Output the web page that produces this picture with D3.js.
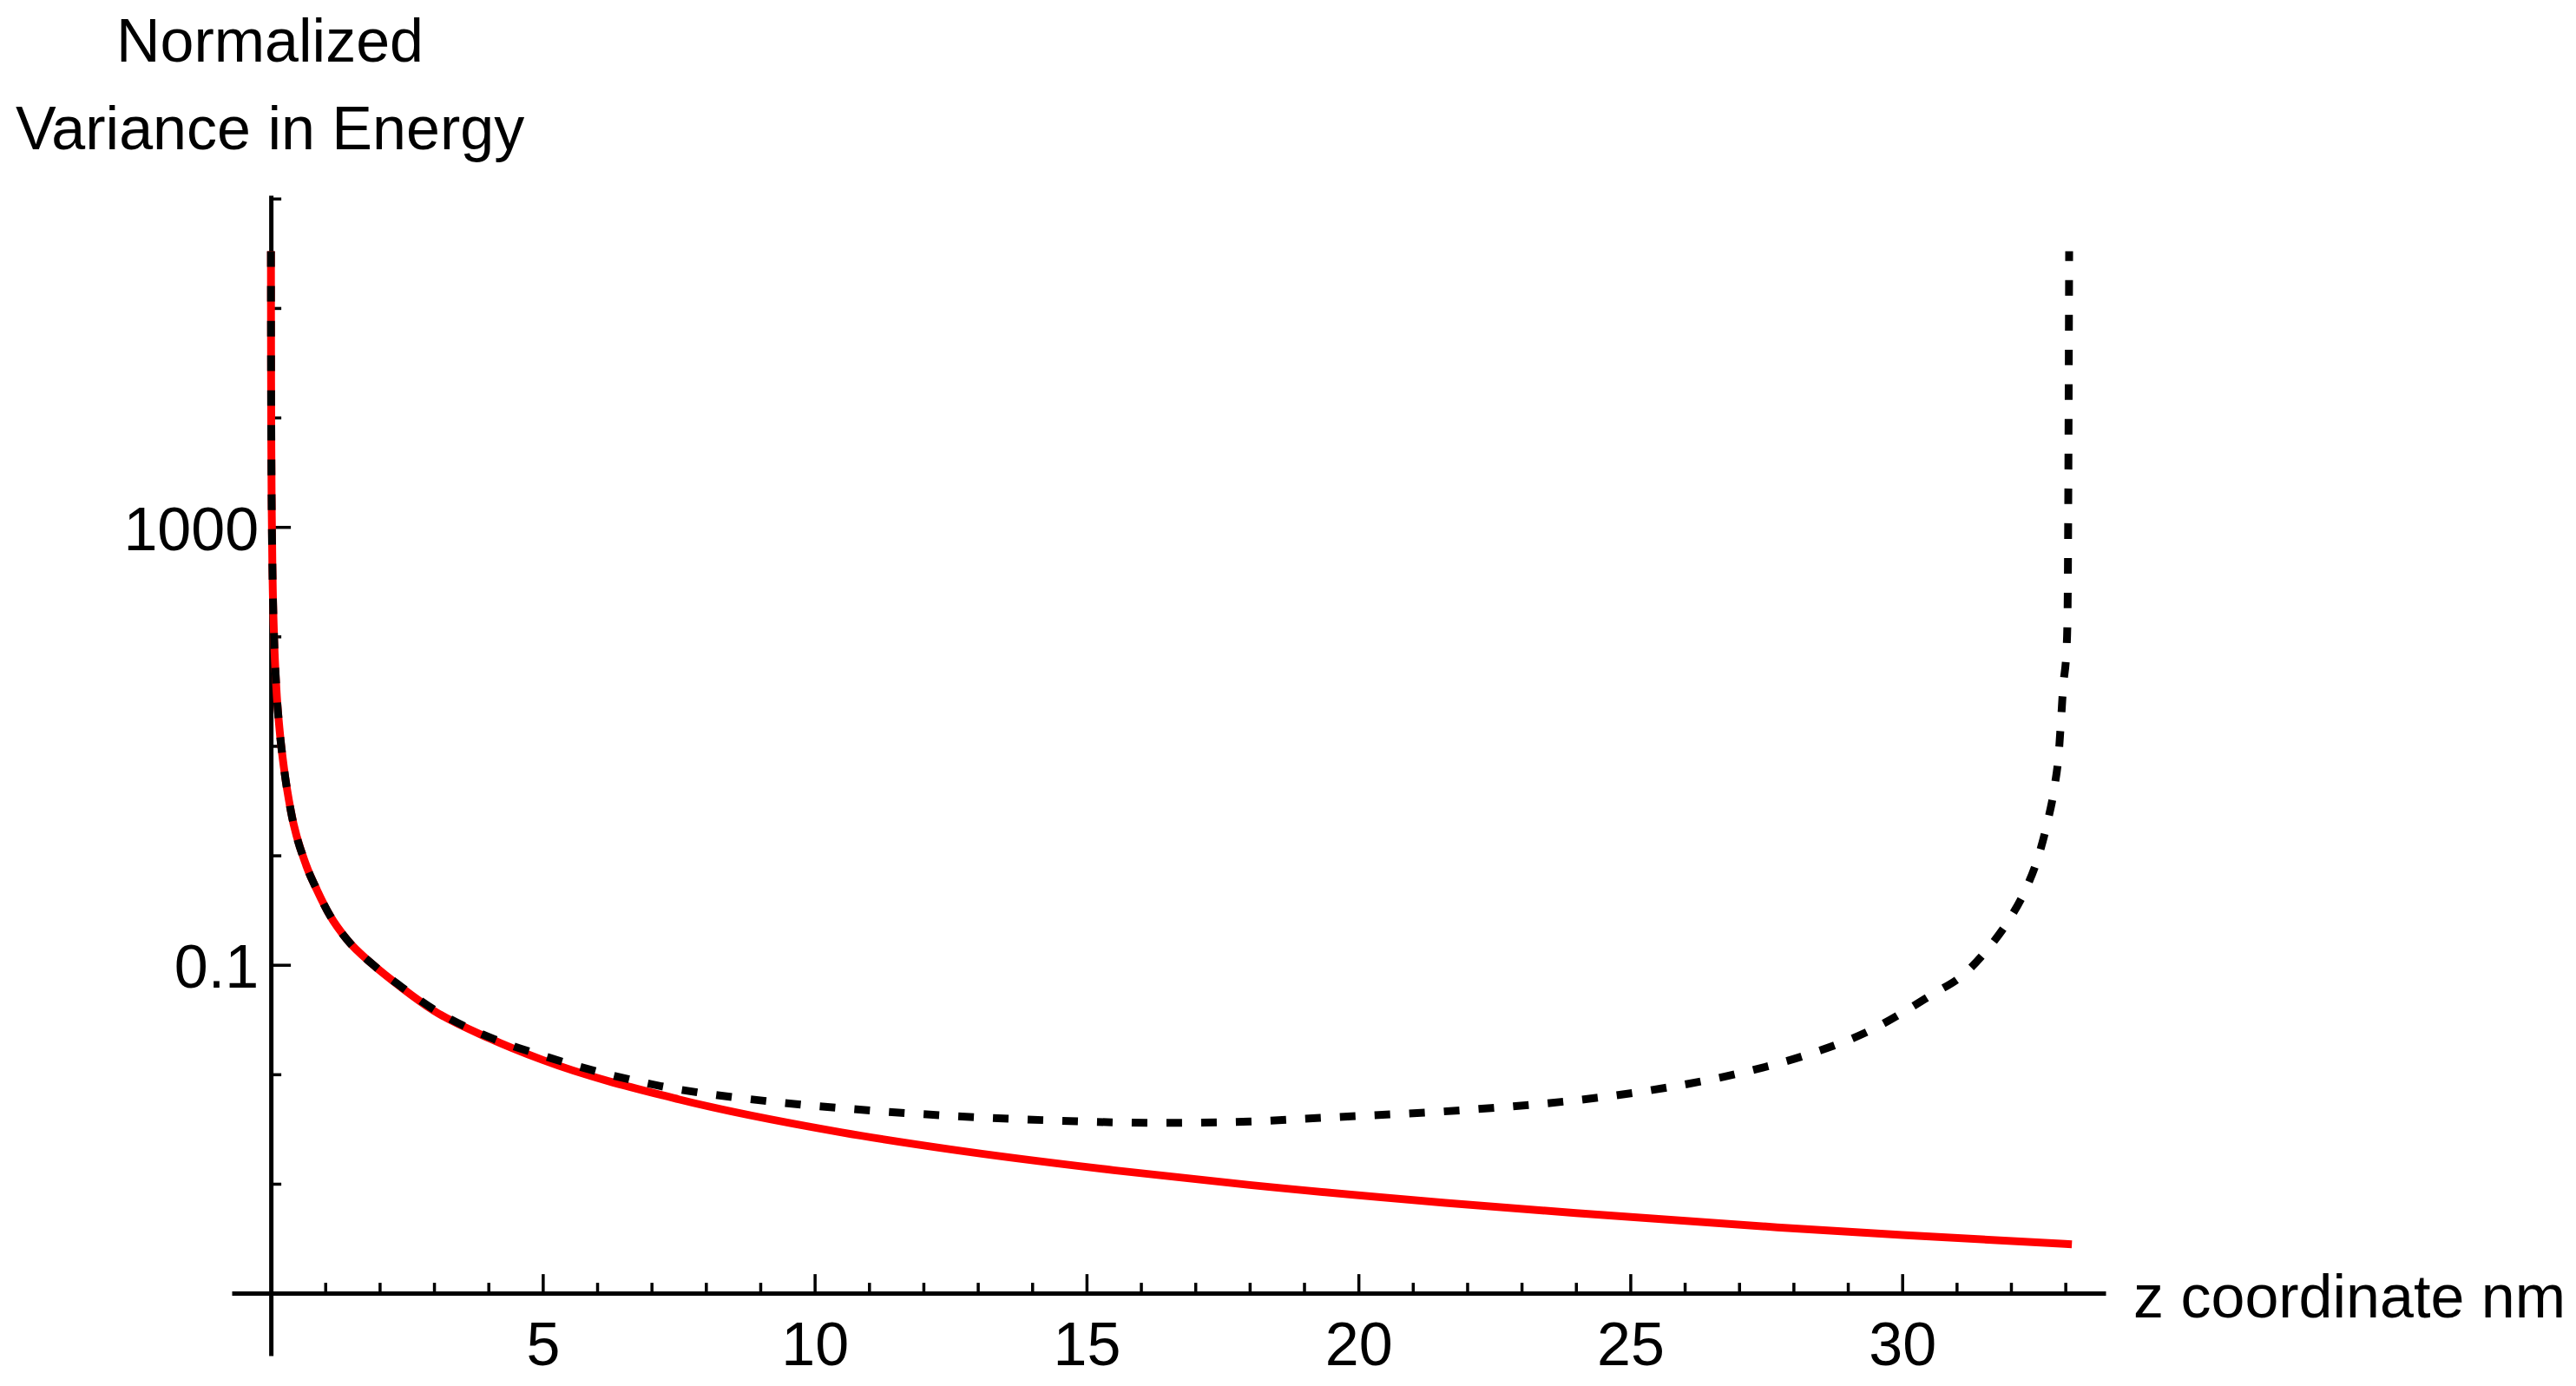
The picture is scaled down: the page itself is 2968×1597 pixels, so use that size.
<!DOCTYPE html>
<html>
<head>
<meta charset="utf-8">
<script src="https://cdn.jsdelivr.net/npm/d3@7"></script>
<style>
  body { margin: 0; background: #fff; }
  svg { display: block; }
  text { font-family: "Liberation Sans", Arial, sans-serif; fill: #000; }
</style>
</head>
<body>
<svg id="chart"></svg>
<script>
// z coordinate (nm) and normalized variance
const zRed = [0.001, 0.002, 0.004, 0.008, 0.015, 0.03, 0.06, 0.1, 0.16, 0.24, 0.37, 0.65,
    0.85, 1.09, 1.4, 1.88, 2.4, 3, 4, 5, 7.5, 10.5, 12.5, 15.5, 18, 21.6, 24, 27.7, 30, 33.12]
const varRed = [3.3e5, 8.3e4, 2.1e4, 5.2e3, 1.5e3, 370, 93, 34, 14, 6.3, 2.5, 0.81,
    0.48, 0.28, 0.17, 0.10, 0.062, 0.038, 0.0215, 0.0135, 0.0059, 0.00294, 0.00206, 0.00133,
    0.000975, 0.00067, 0.00054, 0.0004, 0.00034, 0.00028]

const zDot = [0.001, 0.002, 0.004, 0.008, 0.015, 0.03, 0.06, 0.1, 0.16, 0.24, 0.37, 0.65,
    0.85, 1.09, 1.4, 1.88, 2.4, 3, 4.1, 5, 6.9, 9.4, 10.5, 12.4, 14.3, 16.3, 18, 19.3, 21.9,
    24.5, 25.7, 27.0, 28.2, 29.4, 30.56, 31.12, 31.6, 31.97, 32.28, 32.51, 32.67, 32.8,
    32.88, 32.92, 32.96, 33.02, 33.04, 33.07]
const varDot = [3.3e5, 8.3e4, 2.1e4, 5.2e3, 1.5e3, 370, 93, 34, 14, 6.3, 2.5, 0.81,
    0.48, 0.28, 0.17, 0.10, 0.063, 0.039, 0.021, 0.0148, 0.0083, 0.0055, 0.0049, 0.0042,
    0.0038, 0.0036, 0.0037, 0.0040, 0.0047, 0.0062, 0.0076, 0.0102, 0.0148, 0.025, 0.054,
    0.081, 0.145, 0.26, 0.50, 1.0, 2.0, 4.2, 8.7, 17, 35, 74, 155, 3.3e5]

const xMajor = [5, 10, 15, 20, 25, 30]
const xMinor = d3.range(1, 34).filter(d => d % 5 !== 0)
const yMajor = [1000, 0.1]
const yMinor = [1e-4, 1e-3, 1e-2, 1, 10, 100, 1e4, 1e5, 1e6]

const xTitle = "z coordinate nm"
const yTitle = ["Normalized", "Variance in Energy"]

const width = 2968, height = 1597
const fontSize = 70

const svg = d3.select("#chart").attr("width", width).attr("height", height)

let x = d3.scaleLinear().domain([-0.72, 33.74]).range([267, 2426])
let y = d3.scaleLog().domain([Math.pow(10, -4.57), Math.pow(10, 6.03)]).range([1562, 225])

let x0 = x(0)
let yAxisPos = y(1e-4)

// x axis: minor ticks, then major ticks with labels
svg.append("g")
    .attr("transform", `translate(0, ${yAxisPos})`)
    .call(d3.axisBottom(x).tickValues(xMinor).tickSize(-12).tickSizeOuter(0).tickFormat(""))
    .call(g => g.select(".domain").remove())
    .call(g => g.selectAll("line").attr("stroke-width", 3.5))

svg.append("g")
    .attr("transform", `translate(0, ${yAxisPos})`)
    .call(d3.axisBottom(x).tickValues(xMajor).tickSize(-22).tickSizeOuter(0))
    .call(g => g.select(".domain").attr("stroke-width", 5))
    .call(g => g.selectAll("line").attr("stroke-width", 3.5))
    .call(g => g.selectAll("text")
        .attr("y", 83).attr("dy", 0)
        .style("font-size", fontSize + "px")
        .style("font-family", "'Liberation Sans', Arial, sans-serif"))

// y axis
svg.append("g")
    .attr("transform", `translate(${x0}, 0)`)
    .call(d3.axisLeft(y).tickValues(yMinor).tickSize(-12).tickSizeOuter(0).tickFormat(""))
    .call(g => g.select(".domain").remove())
    .call(g => g.selectAll("line").attr("stroke-width", 3.5))

svg.append("g")
    .attr("transform", `translate(${x0}, 0)`)
    .call(d3.axisLeft(y).tickValues(yMajor).tickSize(-23).tickSizeOuter(0).tickPadding(14)
        .tickFormat(d => d >= 1 ? d3.format("d")(d) : String(d)))
    .call(g => g.select(".domain").attr("stroke-width", 5))
    .call(g => g.selectAll("line").attr("stroke-width", 3.5))
    .call(g => g.selectAll("text")
        .attr("dy", "0.37em")
        .style("font-size", fontSize + "px")
        .style("font-family", "'Liberation Sans', Arial, sans-serif"))

// curves
let line = d3.line()
    .x(d => x(d[0]))
    .y(d => y(d[1]))
    .curve(d3.curveMonotoneX)

svg.append("path")
    .datum(d3.zip(zRed, varRed))
    .attr("d", line)
    .attr("fill", "none")
    .attr("stroke", "#ff0000")
    .attr("stroke-width", 9)

svg.append("path")
    .datum(d3.zip(zDot, varDot))
    .attr("d", line)
    .attr("fill", "none")
    .attr("stroke", "#000")
    .attr("stroke-width", 9)
    .attr("stroke-dasharray", "18,22")

// titles
svg.append("text")
    .attr("x", 2458)
    .attr("y", 1518)
    .style("font-size", fontSize + "px")
    .text(xTitle)

svg.selectAll(".ytitle").data(yTitle).join("text")
    .attr("class", "ytitle")
    .attr("x", 311)
    .attr("y", (d, i) => 71 + i * 101)
    .attr("text-anchor", "middle")
    .style("font-size", fontSize + "px")
    .text(d => d)
</script>
</body>
</html>
